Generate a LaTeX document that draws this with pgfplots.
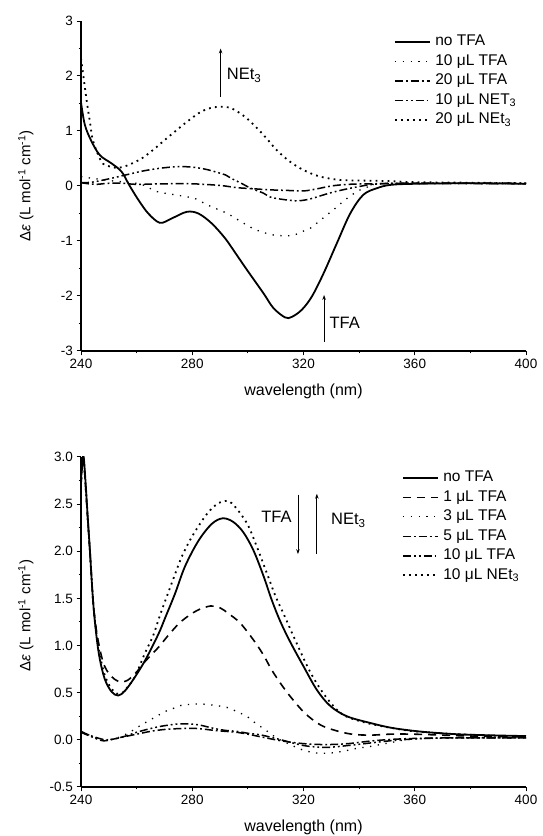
\documentclass[border=0pt]{standalone}
\usepackage{fontspec}
\setmainfont{Liberation Sans}
\usepackage{pgfplots}
\pgfplotsset{compat=1.18}
\usetikzlibrary{arrows.meta}

\pgfplotsset{
  cdaxis/.style={
    scale only axis, width=445pt, height=330pt,
    axis lines=left, axis line style={-, line width=1.2pt},
    tick align=outside, major tick length=4.5pt, minor tick length=2.5pt,
    tick style={black, line width=1pt},
    xmin=240, xmax=400, xtick={240,280,...,400}, minor x tick num=1,
    tick label style={font=\fontsize{13.5}{15}\selectfont},
    /pgf/number format/assume math mode=true,
    xlabel={wavelength (nm)},
    ylabel={Δ\textit{ε} (L mol\textsuperscript{-1} cm\textsuperscript{-1})},
    every axis x label/.style={at={(axis description cs:0.5,-0.122)},anchor=center,font=\fontsize{16}{18}\selectfont},
    every axis y label/.style={at={(axis description cs:-0.124,0.5)},rotate=90,anchor=center,font=\fontsize{15}{17}\selectfont},
    legend style={draw=none, fill=none, inner sep=0pt, row sep=0pt,
      font=\fontsize{15.5}{17}\selectfont,
      nodes={inner sep=2.5pt, text height=11pt, text depth=3.5pt, anchor=west}},
    legend cell align=left,
    legend image code/.code={\draw[#1] (0pt,0pt) -- (35pt,0pt); \path (37pt,0pt);},
  },
  solidline/.style={black, solid, line width=1.8pt, smooth, tension=0.55},
  sparsedot/.style={black, line width=1.3pt, dash pattern=on 1.3pt off 6.5pt, smooth, tension=0.55},
  densedot/.style={black, line width=1.8pt, dash pattern=on 1.8pt off 4.2pt, smooth, tension=0.55},
  dashline/.style={black, line width=1.6pt, dash pattern=on 8pt off 6pt, smooth, tension=0.55},
  dashdot/.style={black, line width=1.5pt, dash pattern=on 8pt off 3pt on 1.8pt off 3pt, smooth, tension=0.55},
  dashdotdot/.style={black, line width=1.5pt, dash pattern=on 8pt off 3pt on 1.8pt off 3pt on 1.8pt off 3pt, smooth, tension=0.55},
}

\begin{document}
\begin{tikzpicture}
\useasboundingbox (0,0) rectangle (543pt,836pt);

% ---- top panel ----
\begin{axis}[cdaxis, at={(81pt,485pt)}, anchor=south west,
  ymin=-3, ymax=3, ytick={-3,-2,...,3}, minor y tick num=1,
  legend style={at={(axis description cs:0.703,0.967)}, anchor=north west}]
\addplot[solidline] coordinates {
(240,1.52) (241.4,1.11) (243.8,0.81) (246.8,0.56) (251,0.41) (254.6,0.26)
(257.3,0.02) (260.6,-0.25) (264.2,-0.50) (268.4,-0.67) (272.6,-0.59) (278,-0.47)
(282.2,-0.50) (287,-0.68) (291.8,-0.95) (295.4,-1.21) (299.6,-1.52) (305.6,-1.95)
(309.2,-2.22) (313.4,-2.39) (315.8,-2.38) (319.4,-2.25) (323,-2.01) (327.2,-1.59)
(332,-1.04) (336.8,-0.50) (341.5,-0.16) (346.4,-0.04) (351.2,0.02) (360,0.04)
(380,0.05) (400,0.04)};
\addlegendentry{no TFA}
\addplot[sparsedot] coordinates {
(240,0.17) (244,0.14) (250,0.10) (256,0.07) (261.8,0.03) (267.2,-0.10) (273.8,-0.16)
(280.4,-0.22) (283.4,-0.29) (287,-0.38) (290,-0.44) (293,-0.51) (296.6,-0.62)
(302.6,-0.79) (309.2,-0.89) (315.8,-0.90) (319.4,-0.83) (322.4,-0.77) (325.4,-0.65)
(332,-0.38) (335,-0.25) (340,-0.08) (345,0.01) (350,0.04) (400,0.04)};
\addlegendentry{10 μL TFA}
\addplot[dashdot] coordinates {
(240,0.06) (245,0.03) (250,0.05) (255,0.05) (260,0.03) (270,0.04) (280,0.04)
(290,0.01) (296,-0.03) (302,-0.05) (308,-0.07) (314,-0.08) (320,-0.09) (325,-0.05)
(330,0.00) (336,0.03) (345,0.04) (360,0.05) (400,0.04)};
\addlegendentry{20 μL TFA}
\addplot[dashdotdot] coordinates {
(240,0.06) (244,0.07) (250,0.13) (256,0.20) (262,0.27) (268,0.32) (274,0.35)
(278,0.35) (282,0.33) (286,0.29) (292,0.20) (294,0.14) (298,0.04) (301,-0.04)
(305.6,-0.13) (308,-0.20) (312,-0.24) (317.6,-0.27) (322,-0.24) (326,-0.18)
(330,-0.12) (335,-0.06) (340,-0.01) (345,0.03) (355,0.05) (400,0.05)};
\addlegendentry{10 μL NET\textsubscript{3}}
\addplot[densedot] coordinates {
(240,2.32) (240.8,2.02) (242.1,1.53) (243.2,1.17) (244.4,0.81) (247.4,0.44)
(250,0.36) (253.4,0.33) (257,0.38) (261.8,0.50) (266,0.66) (270.2,0.84) (274,1.00)
(277.4,1.14) (282.2,1.32) (286,1.41) (290,1.44) (294.2,1.41) (299.6,1.23)
(305.6,0.93) (310.4,0.65) (315.2,0.44) (320,0.29) (326,0.17) (333.2,0.11)
(340,0.10) (350,0.09) (360,0.07) (380,0.06) (400,0.05)};
\addlegendentry{20 μL NEt\textsubscript{3}}
\draw[-{Stealth[length=5pt,width=3.5pt]}, line width=0.8pt] (axis cs:290.2,1.62) -- (axis cs:290.2,2.50);
\node[anchor=base west, inner sep=0pt, font=\fontsize{16.5}{18}\selectfont] at (axis cs:292.4,1.93) {NEt\textsubscript{3}};
\draw[-{Stealth[length=5pt,width=3.5pt]}, line width=0.8pt] (axis cs:327.4,-2.83) -- (axis cs:327.4,-1.98);
\node[anchor=base west, inner sep=0pt, font=\fontsize{16.5}{18}\selectfont] at (axis cs:329.3,-2.59) {TFA};
\end{axis}

% ---- bottom panel ----
\begin{axis}[cdaxis, at={(81pt,49pt)}, anchor=south west,
  ymin=-0.5, ymax=3, ytick={-0.5,0,...,3.0}, minor y tick num=1,
  yticklabel style={/pgf/number format/.cd, fixed, fixed zerofill, precision=1},
  every axis y label/.style={at={(axis description cs:-0.124,0.52)},rotate=90,anchor=center,font=\fontsize{15}{17}\selectfont},
  legend style={at={(axis description cs:0.721,0.967)}, anchor=north west}]
\addplot[solidline] coordinates {
(240,2.75) (240.8,3.02) (241.6,2.75) (242.4,2.37) (243.2,2.01) (244.4,1.45)
(245.6,1.09) (246.8,0.85) (248.6,0.64) (251,0.51) (253.4,0.47) (255.8,0.52)
(258.8,0.64) (263,0.84) (267.8,1.12) (270.2,1.29) (273.8,1.55) (277.4,1.84)
(282.2,2.11) (287,2.29) (291,2.35) (294.8,2.31) (298.4,2.20) (302,2.01)
(305.6,1.74) (308.5,1.49) (311.6,1.26) (315.2,1.04) (320,0.78) (324.8,0.53)
(329.6,0.36) (335.6,0.25) (343.9,0.18) (351.2,0.13) (358.3,0.10) (365,0.08)
(375,0.06) (385,0.05) (400,0.04)};
\addlegendentry{no TFA}
\addplot[dashline] coordinates {
(240,2.7) (240.8,3.0) (241.6,2.7) (242.4,2.35) (243.2,2.0) (244.4,1.45) (245.6,1.15)
(246.8,0.96) (248,0.82) (249.2,0.74) (251,0.67) (253.4,0.62) (255.8,0.62)
(257.6,0.65) (260,0.72) (263,0.83) (267.8,0.98) (272,1.13) (276.2,1.26)
(281.6,1.37) (286.6,1.42) (290,1.40) (293,1.34) (297.2,1.24) (302,1.06)
(305.6,0.90) (308.6,0.74) (312.2,0.58) (315.8,0.44) (320.6,0.28) (326,0.16)
(331.4,0.10) (337.4,0.06) (344,0.05) (351,0.06) (360,0.06) (380,0.04) (400,0.03)};
\addlegendentry{1 μL TFA}
\addplot[sparsedot] coordinates {
(240,0.09) (243,0.05) (247,0.00) (250,0.00) (254,0.03) (258,0.09) (261.8,0.16)
(267.2,0.25) (270.2,0.30) (273.8,0.34) (276.8,0.37) (283.4,0.38) (289.4,0.36)
(293,0.34) (296,0.30) (299.6,0.25) (302.6,0.18) (305.6,0.12) (310.4,0.02)
(315.2,-0.05) (320,-0.11) (324.8,-0.14) (329.6,-0.14) (334.4,-0.12) (339.2,-0.09)
(344,-0.07) (351.2,-0.03) (360,0.01) (380,0.02) (400,0.02)};
\addlegendentry{3 μL TFA}
\addplot[dashdot] coordinates {
(240,0.09) (243,0.05) (246,0.02) (249,0.00) (252,0.01) (255,0.03) (260,0.06)
(265,0.09) (270,0.11) (276,0.12) (282,0.12) (288,0.10) (292,0.09) (296,0.08)
(300,0.06) (305,0.03) (312,-0.01) (320,-0.04) (328,-0.05) (336,-0.04) (345,-0.01)
(355,0.01) (370,0.02) (400,0.02)};
\addlegendentry{5 μL TFA}
\addplot[dashdotdot] coordinates {
(240,0.08) (244,0.03) (248,-0.01) (252,0.01) (256,0.04) (260,0.08) (265,0.12)
(270,0.15) (276,0.17) (282,0.16) (288,0.12) (292,0.10) (296,0.09) (300,0.07)
(305,0.05) (312,0.00) (320,-0.06) (328,-0.08) (336,-0.06) (345,-0.03) (355,0.00)
(370,0.02) (400,0.02)};
\addlegendentry{10 μL TFA}
\addplot[densedot] coordinates {
(240,2.7) (240.8,3.0) (241.6,2.7) (242.4,2.35) (243.2,2.0) (244.4,1.45) (245.6,1.12)
(246.8,0.90) (248.6,0.68) (251,0.54) (253,0.49) (255,0.50) (257,0.57) (259.4,0.67)
(263,0.92) (266,1.11) (268.5,1.33) (272.6,1.66) (276.2,1.94) (279.8,2.15)
(284.6,2.37) (288,2.48) (291,2.53) (294.2,2.51) (299.6,2.30) (303.2,2.05)
(306.8,1.77) (310,1.52) (313.4,1.30) (317.6,1.02) (322.4,0.72) (327.2,0.49)
(332,0.32) (336,0.24) (344,0.17) (351,0.13) (360,0.09) (375,0.06) (400,0.03)};
\addlegendentry{10 μL NEt\textsubscript{3}}
\draw[-{Stealth[length=5pt,width=3.5pt]}, line width=0.8pt] (axis cs:318.0,2.60) -- (axis cs:318.0,1.97);
\draw[-{Stealth[length=5pt,width=3.5pt]}, line width=0.8pt] (axis cs:324.8,1.97) -- (axis cs:324.8,2.61);
\node[anchor=base east, inner sep=0pt, font=\fontsize{16.5}{18}\selectfont] at (axis cs:315.8,2.30) {TFA};
\node[anchor=base west, inner sep=0pt, font=\fontsize{16.5}{18}\selectfont] at (axis cs:329.9,2.28) {NEt\textsubscript{3}};
\end{axis}
\end{tikzpicture}
\end{document}
